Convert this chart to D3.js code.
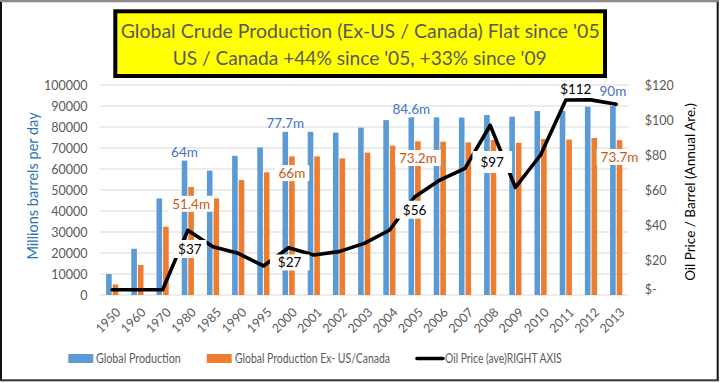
<!DOCTYPE html>
<html><head><meta charset="utf-8">
<script src="https://cdn.jsdelivr.net/npm/d3@7"></script>
<style>
html,body{margin:0;padding:0;background:#fff;}
svg{display:block;font-family:Lato, "Open Sans", sans-serif;}
</style></head>
<body>
<svg id="c" width="720" height="383"></svg>
<script>
const categories = ["1950","1960","1970","1980","1985","1990","1995","2000","2001","2002","2003","2004","2005","2006","2007","2008","2009","2010","2011","2012","2013"];
const globalProduction = [10000,22000,46000,64000,59200,66300,70300,77700,77700,77300,79700,83300,84600,84600,84500,85700,84900,87600,87600,89700,90000];
const globalExUSCanada = [5000,14300,32500,51400,46000,54800,58400,66000,66000,65100,67800,71100,73200,73000,72700,73800,72500,74300,74000,74800,73700];
const oilPrice = [3,3,3,37,27.6,23.8,16.6,27,22.9,24.8,29.5,37,56,65.7,72.4,97,61.5,80,111.4,111.5,109];
const leftTicks = [0,10000,20000,30000,40000,50000,60000,70000,80000,90000,100000];
const rightTicks = [0,20,40,60,80,100,120];
const rightTickLabels = ["$-","$20","$40","$60","$80","$100","$120"];
const blueLabels = [["1980","64m"],["2000","77.7m"],["2005","84.6m"],["2013","90m"]];
const orangeLabels = [["1980","51.4m"],["2000","66m"],["2005","73.2m"],["2013","73.7m"]];
const priceLabels = [["1980","$37"],["2000","$27"],["2005","$56"],["2008","$97"],["2011","$112"]];
const titleLines = ["Global Crude Production (Ex-US / Canada) Flat since '05","US / Canada +44% since '05, +33% since '09"];
const legendItems = ["Global Production","Global Production Ex- US/Canada","Oil Price (ave)RIGHT AXIS"];

const svg = d3.select("#c");
const W=720,H=383;
const m = {l:99.6, r:628.8, t:85, b:295};
const blue="#5B9BD5", orange="#ED7D31", grid="#D9D9D9", txt="#595959";

// frame
svg.append("rect").attr("x",0).attr("y",0).attr("width",W).attr("height",383).attr("fill","#fff");
svg.append("rect").attr("x",0).attr("y",0).attr("width",719).attr("height",2.3).attr("fill","#8a8a8a");
svg.append("rect").attr("x",0).attr("y",2).attr("width",2).attr("height",379).attr("fill","#111");
svg.append("rect").attr("x",716.7).attr("y",2).attr("width",2).attr("height",379).attr("fill","#111");
svg.append("rect").attr("x",0).attr("y",379.3).attr("width",718.7).attr("height",2).attr("fill","#333");

const x = d3.scaleBand().domain(categories).range([m.l,m.r]);
const y = d3.scaleLinear().domain([0,100000]).range([m.b,m.t]);
const y2 = d3.scaleLinear().domain([0,120]).range([m.b,m.t]);
const cx = c => x(c)+x.bandwidth()/2;

// grid
svg.append("g").selectAll("line").data(leftTicks).join("line")
  .attr("x1",m.l).attr("x2",m.r).attr("y1",d=>y(d)).attr("y2",d=>y(d))
  .attr("stroke",grid).attr("stroke-width",1);

// left axis
const la = svg.append("g").attr("transform",`translate(${m.l-12},0)`)
  .call(d3.axisLeft(y).tickValues(leftTicks).tickSize(0).tickPadding(0).tickFormat(d3.format("d")));
la.select(".domain").remove();
la.selectAll("text").attr("fill",txt).attr("font-size",12.5).attr("font-family","Lato, sans-serif");

// right axis
const ra = svg.append("g").attr("transform",`translate(${m.r+16},0)`)
  .call(d3.axisRight(y2).tickValues(rightTicks).tickSize(0).tickPadding(0).tickFormat((d,i)=>rightTickLabels[i]));
ra.select(".domain").remove();
ra.selectAll("text").attr("fill",txt).attr("font-size",12.5).attr("font-family","Lato, sans-serif");
ra.selectAll(".tick").filter(d=>d===0).select("text").attr("dy","-0.1em");

// bars
const bw = 5.6;
svg.append("g").selectAll("rect").data(categories).join("rect")
  .attr("x",d=>cx(d)-bw-0.5).attr("width",bw)
  .attr("y",(d,i)=>y(globalProduction[i])).attr("height",(d,i)=>y(0)-y(globalProduction[i]))
  .attr("fill",blue);
svg.append("g").selectAll("rect").data(categories).join("rect")
  .attr("x",d=>cx(d)+0.5).attr("width",bw)
  .attr("y",(d,i)=>y(globalExUSCanada[i])).attr("height",(d,i)=>y(0)-y(globalExUSCanada[i]))
  .attr("fill",orange);

// line
const line = d3.line().x((d,i)=>cx(categories[i])).y(d=>y2(d));
svg.append("path").datum(oilPrice).attr("d",line).attr("fill","none")
  .attr("stroke","#000").attr("stroke-width",3.6).attr("stroke-linejoin","round").attr("stroke-linecap","round");

// labels
const lab = svg.append("g").attr("font-size",13.5).attr("font-family","Lato, sans-serif");
blueLabels.forEach(([c,t])=>{
  const i = categories.indexOf(c);
  const dy = c==="2013" ? -15 : -8.5;
  lab.append("text").attr("x",cx(c)-3.3).attr("y",y(globalProduction[i])+dy).attr("dy","0.35em")
    .attr("text-anchor","middle").attr("fill","#4472C4").text(t);
});
function boxed(px,py,t,color,padx,pady){
  const g = lab.append("g");
  const r = g.append("rect").attr("fill","#fff");
  const tx = g.append("text").attr("x",px).attr("y",py).attr("dy","0.35em").attr("text-anchor","middle").attr("fill",color).text(t);
  const bb = tx.node().getBBox();
  r.attr("x",bb.x-padx).attr("y",bb.y-pady).attr("width",bb.width+2*padx).attr("height",bb.height+2*pady);
}
orangeLabels.forEach(([c,t])=>{
  const i = categories.indexOf(c);
  boxed(cx(c)+3.3, y(globalExUSCanada[i])+17, t, "#C55A11", 4, 0);
});
const priceOff = {"1980":[2,19,5,1],"2000":[1,15,8,0],"2005":[0,13,6,1],"2008":[2,37,8,3],"2011":[10,-11,0,0]};
priceLabels.forEach(([c,t])=>{
  const i = categories.indexOf(c);
  const o = priceOff[c];
  if(c==="2011"){
    lab.append("text").attr("x",cx(c)+o[0]).attr("y",y2(oilPrice[i])+o[1]).attr("dy","0.35em")
      .attr("text-anchor","middle").attr("fill","#000").text(t);
  } else boxed(cx(c)+o[0], y2(oilPrice[i])+o[1], t, "#000", o[2], o[3]);
});

// axis titles
svg.append("text").attr("transform","translate(38,186) rotate(-90)").attr("text-anchor","middle")
  .attr("font-size",14.5).attr("fill","#2E75B6").text("Millions barrels per day");
svg.append("text").attr("transform","translate(695,192) rotate(-90)").attr("text-anchor","middle")
  .attr("font-size",13.5).attr("fill","#000").text("Oil Price / Barrel (Annual Are.)");

// x labels
svg.append("g").selectAll("text").data(categories).join("text")
  .attr("transform",d=>`translate(${cx(d)+3},${307}) rotate(-45)`)
  .attr("text-anchor","end").attr("dy","0.7em").attr("font-size",12.5).attr("fill",txt).text(d=>d);

// title box
svg.append("rect").attr("x",115.3).attr("y",11.3).attr("width",489.7).attr("height",64.7)
  .attr("fill","#FFFF00").attr("stroke","#000").attr("stroke-width",4);
const titleW = [479,374];
svg.append("g").selectAll("text").data(titleLines).join("text")
  .attr("x",(d,i)=>i===0?120.7:172.7).attr("y",(d,i)=>i===0?30.7:58.3).attr("dy","0.35em")
  .attr("textLength",(d,i)=>titleW[i]).attr("lengthAdjust","spacingAndGlyphs")
  .attr("font-size",20).attr("fill","#595959").text(d=>d);

// legend
const lg = svg.append("g").attr("font-size",13).attr("fill",txt);
lg.append("rect").attr("x",68.3).attr("y",354).attr("width",25).attr("height",9).attr("fill",blue);
lg.append("text").attr("x",96).attr("y",358.5).attr("dy","0.35em").attr("textLength",84.7).attr("lengthAdjust","spacingAndGlyphs").text(legendItems[0]);
lg.append("rect").attr("x",206.7).attr("y",354).attr("width",25).attr("height",9).attr("fill",orange);
lg.append("text").attr("x",235).attr("y",358.5).attr("dy","0.35em").attr("textLength",155).attr("lengthAdjust","spacingAndGlyphs").text(legendItems[1]);
lg.append("line").attr("x1",417).attr("x2",443).attr("y1",358.5).attr("y2",358.5).attr("stroke","#000").attr("stroke-width",3.6).attr("stroke-linecap","round");
lg.append("text").attr("x",445).attr("y",358.5).attr("dy","0.35em").attr("textLength",116.7).attr("lengthAdjust","spacingAndGlyphs").text(legendItems[2]);
</script>
</body></html>
